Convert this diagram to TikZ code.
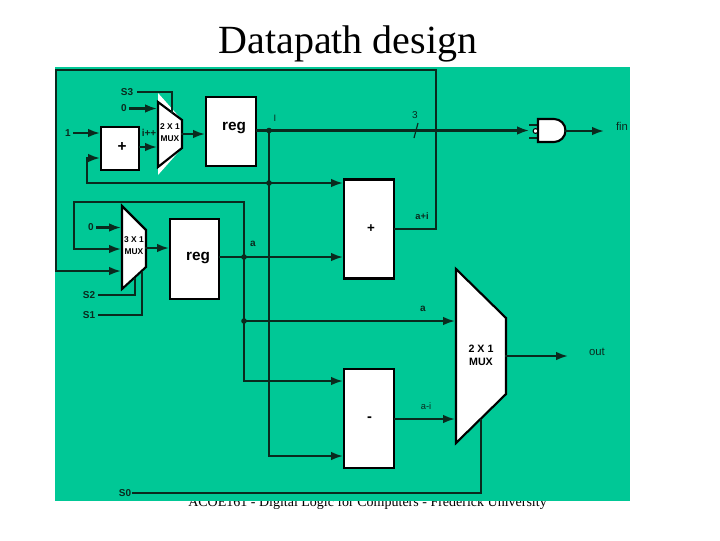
\documentclass[tikz,border=0pt]{standalone}
\usepackage{fontspec}
\setmainfont{Liberation Serif}
\newfontfamily\lblfont{Liberation Sans}
\usetikzlibrary{arrows.meta}
\definecolor{bggreen}{HTML}{00C896}
\definecolor{ink}{HTML}{0A2A1E}
\tikzset{
  wire/.style={draw=ink,line width=1.6pt,line cap=rect,line join=miter},
  arr/.style={wire,-{Latex[length=9pt,width=6.5pt]}},
  thin wire/.style={draw=ink,line width=0.9pt},
  block/.style 2 args={draw=black,line width=1.6pt,fill=white,inner sep=0pt,minimum width=#1*0.75pt,minimum height=#2*0.75pt},
  muxshape/.style={draw=black,line width=1.6pt,fill=white,line join=miter},
  lbl/.style={inner sep=0pt,text=ink,font=\lblfont\bfseries\fontsize{7.5}{9}\selectfont},
  lblthin/.style={inner sep=0pt,text=ink,font=\lblfont\fontsize{8.5}{10}\selectfont},
  muxs/.style={inner sep=0pt,text=black,align=center,font=\lblfont\bfseries\fontsize{6.3}{9}\selectfont},
  muxb/.style={inner sep=0pt,text=black,align=center,font=\lblfont\bfseries\fontsize{8}{10}\selectfont},
  regl/.style={inner sep=0pt,text=black,font=\lblfont\bfseries\fontsize{11.5}{13}\selectfont},
  dot/.style={circle,fill=ink,inner sep=0pt,minimum size=4.2pt},
}
\begin{document}
\begin{tikzpicture}[x=0.75pt,y=-0.75pt]
\useasboundingbox (0,0) rectangle (720,540);
\fill[white] (0,0) rectangle (720,540);
\node[inner sep=0pt,font=\fontsize{30}{34}\selectfont] (title) at (348,44) {Datapath design};
\node[inner sep=0pt,font=\fontsize{10.5}{13}\selectfont] (foot) at (367.5,503) {ACOE161 - Digital Logic for Computers - Frederick University};
\fill[bggreen] (55,67) rectangle (630,501);

% blocks
\node[block={38}{43}] (add1) at (120,148.5) {};
\node[regl] (addt) at (122,147) {+};
\node[block={50}{69}] (reg1) at (231,131.5) {};
\node[regl] (regt1) at (234,128) {reg};
\node[block={49}{80}] (reg2) at (194.5,259) {};
\node[regl] (regt2) at (198,258) {reg};
\node[block={50}{99}] (add2) at (369,229) {};
\node[inner sep=0pt,text=black,font=\lblfont\bfseries\fontsize{10}{12}\selectfont] (addt2) at (371,229) {+};
\node[block={50}{99}] (sub) at (369,418.5) {};
\node[inner sep=0pt,text=black,font=\lblfont\bfseries\fontsize{11}{13}\selectfont] (subt) at (369.5,419) {-};

% mux 1
\fill[white] (158,93) -- (182,120) -- (182,148) -- (158,175) -- cycle;
\draw[muxshape] (158,102) coordinate (m1tl) -- (182,120) coordinate (m1tr) -- (182,148) coordinate (m1br) -- (158,167) coordinate (m1bl) -- cycle;
\node[muxs] (m1t) at (170,133) {2 X 1\\MUX};
% mux 2
\draw[muxshape] (122,206) coordinate (m2tl) -- (146,230) coordinate (m2tr) -- (146,267) coordinate (m2br) -- (122,289) coordinate (m2bl) -- cycle;
\node[muxs] (m2t) at (134,246) {3 X 1\\MUX};
% big mux
\draw[muxshape] (456,269) coordinate (m3tl) -- (506,318) coordinate (m3tr) -- (506,394) coordinate (m3br) -- (456,443) coordinate (m3bl) -- cycle;
\node[muxb] (m3t) at (481,355.5) {2 X 1\\MUX};

% AND gate
\draw[wire,line width=1.2pt] (530,125) coordinate (g1) -- (538,125) (530,138) coordinate (g2) -- (538,138);
\draw[muxshape] (538,119) -- (554,119) arc[start angle=-90,end angle=90,radius=11.5] -- (538,142) -- cycle;
\node[circle,draw=black,fill=white,line width=0.8pt,inner sep=0pt,minimum size=3.6pt] (bub) at (535.5,131) {};
\coordinate (gout) at (565.5,131);

% labels
\node[lbl] (s3) at (127,92) {S3};
\node[lbl] (z1) at (124,108.5) {0};
\node[lbl] (one) at (68,133) {1};
\node[lbl] (ipp) at (149,133) {i++};
\node[lbl] (z2) at (91,227) {0};
\node[lbl] (s2) at (89,295) {S2};
\node[lbl] (s1) at (89,315) {S1};
\node[lbl] (s0) at (125,493) {S0};
\node[lblthin,font=\lblfont\fontsize{7}{9}\selectfont] (il) at (275,118) {I};
\node[lblthin,font=\lblfont\fontsize{7.5}{9}\selectfont] (three) at (415,115) {3};
\node[lblthin] (fin) at (622,126) {fin};
\node[lblthin] (out) at (597,352) {out};
\node[lbl] (al) at (253,244) {a};
\node[lbl] (al2) at (423,309) {a};
\node[lbl,font=\lblfont\bfseries\fontsize{7}{9}\selectfont] (api) at (422,216) {a+i};
\node[lblthin,font=\lblfont\fontsize{7}{9}\selectfont] (ami) at (426,406) {a-i};

% junctions and free ends
\coordinate (ji) at (269,130.5);
\coordinate (jf) at (269,183);
\coordinate (ja) at (244,257);
\coordinate (jb) at (244,321);
\coordinate (jtop) at (56,70);
\coordinate (jtopr) at (436,70);

% top feedback
\draw[wire] (add2.east |- 0,229) -- (436,229) -- (jtopr) -- (jtop) -- (56,271) coordinate (e1);
\draw[arr] (e1) -- (121,271);
% S3
\draw[wire,line width=1.1pt] (s3.east) ++(4,0) -- (172,92) -- (172,112);
\draw[arr] (z1.east) ++(3,0) -- (157,108.5);
\draw[arr] (one.east) ++(3,0) -- (100,133);
\draw[arr] (add1.east |- 0,147) -- (157,147);
\draw[arr] (m1tr |- 0,134) -- (205,134);
% i net
\draw[wire] (reg1.east |- ji) -- (ji) -- (269,456) coordinate (jd);
\draw[arr] (jd) -- (343,456);
\draw[arr] (ji) -- (529,130.5);
\draw[arr] (jf) -- (343,183);
\draw[wire] (jf) -- (87,183) -- (87,158) coordinate (e2);
\draw[arr] (e2) -- (100,158);
\draw[arr] (gout) -- (604,131);
\draw[thin wire] (418,123) -- (414,138);
% 3x1 mux
\draw[arr] (z2.east) ++(3,0.5) -- (121,227.5);
\draw[arr] (74,249) -- (121,249);
\draw[wire] (ja) -- (244,202) -- (74,202) -- (74,249);
\draw[arr] (m2tr |- 0,248) -- (169,248);
\draw[wire] (s2.east) ++(4,0) -- (135,295) -- (135,279);
\draw[wire] (s1.east) ++(4,0) -- (142,315) -- (142,273);
% a net
\draw[wire] (reg2.east |- ja) -- (ja);
\draw[arr] (ja) -- (343,257);
\draw[wire] (ja) -- (jb) -- (244,381) coordinate (je);
\draw[arr] (je) -- (343,381);
\draw[arr] (jb) -- (455,321);
\draw[arr] (sub.east |- 0,419) -- (455,419);
\draw[arr] (m3tr |- 0,356) -- (568,356);
\draw[wire,line width=1.2pt] (s0.east) ++(1,0) -- (481,493) -- (481,420);
% dots
\node[dot] (dji) at (ji) {};
\node[dot] (djf) at (jf) {};
\node[dot] (dja) at (ja) {};
\node[dot] (djb) at (jb) {};
\end{tikzpicture}
\end{document}
